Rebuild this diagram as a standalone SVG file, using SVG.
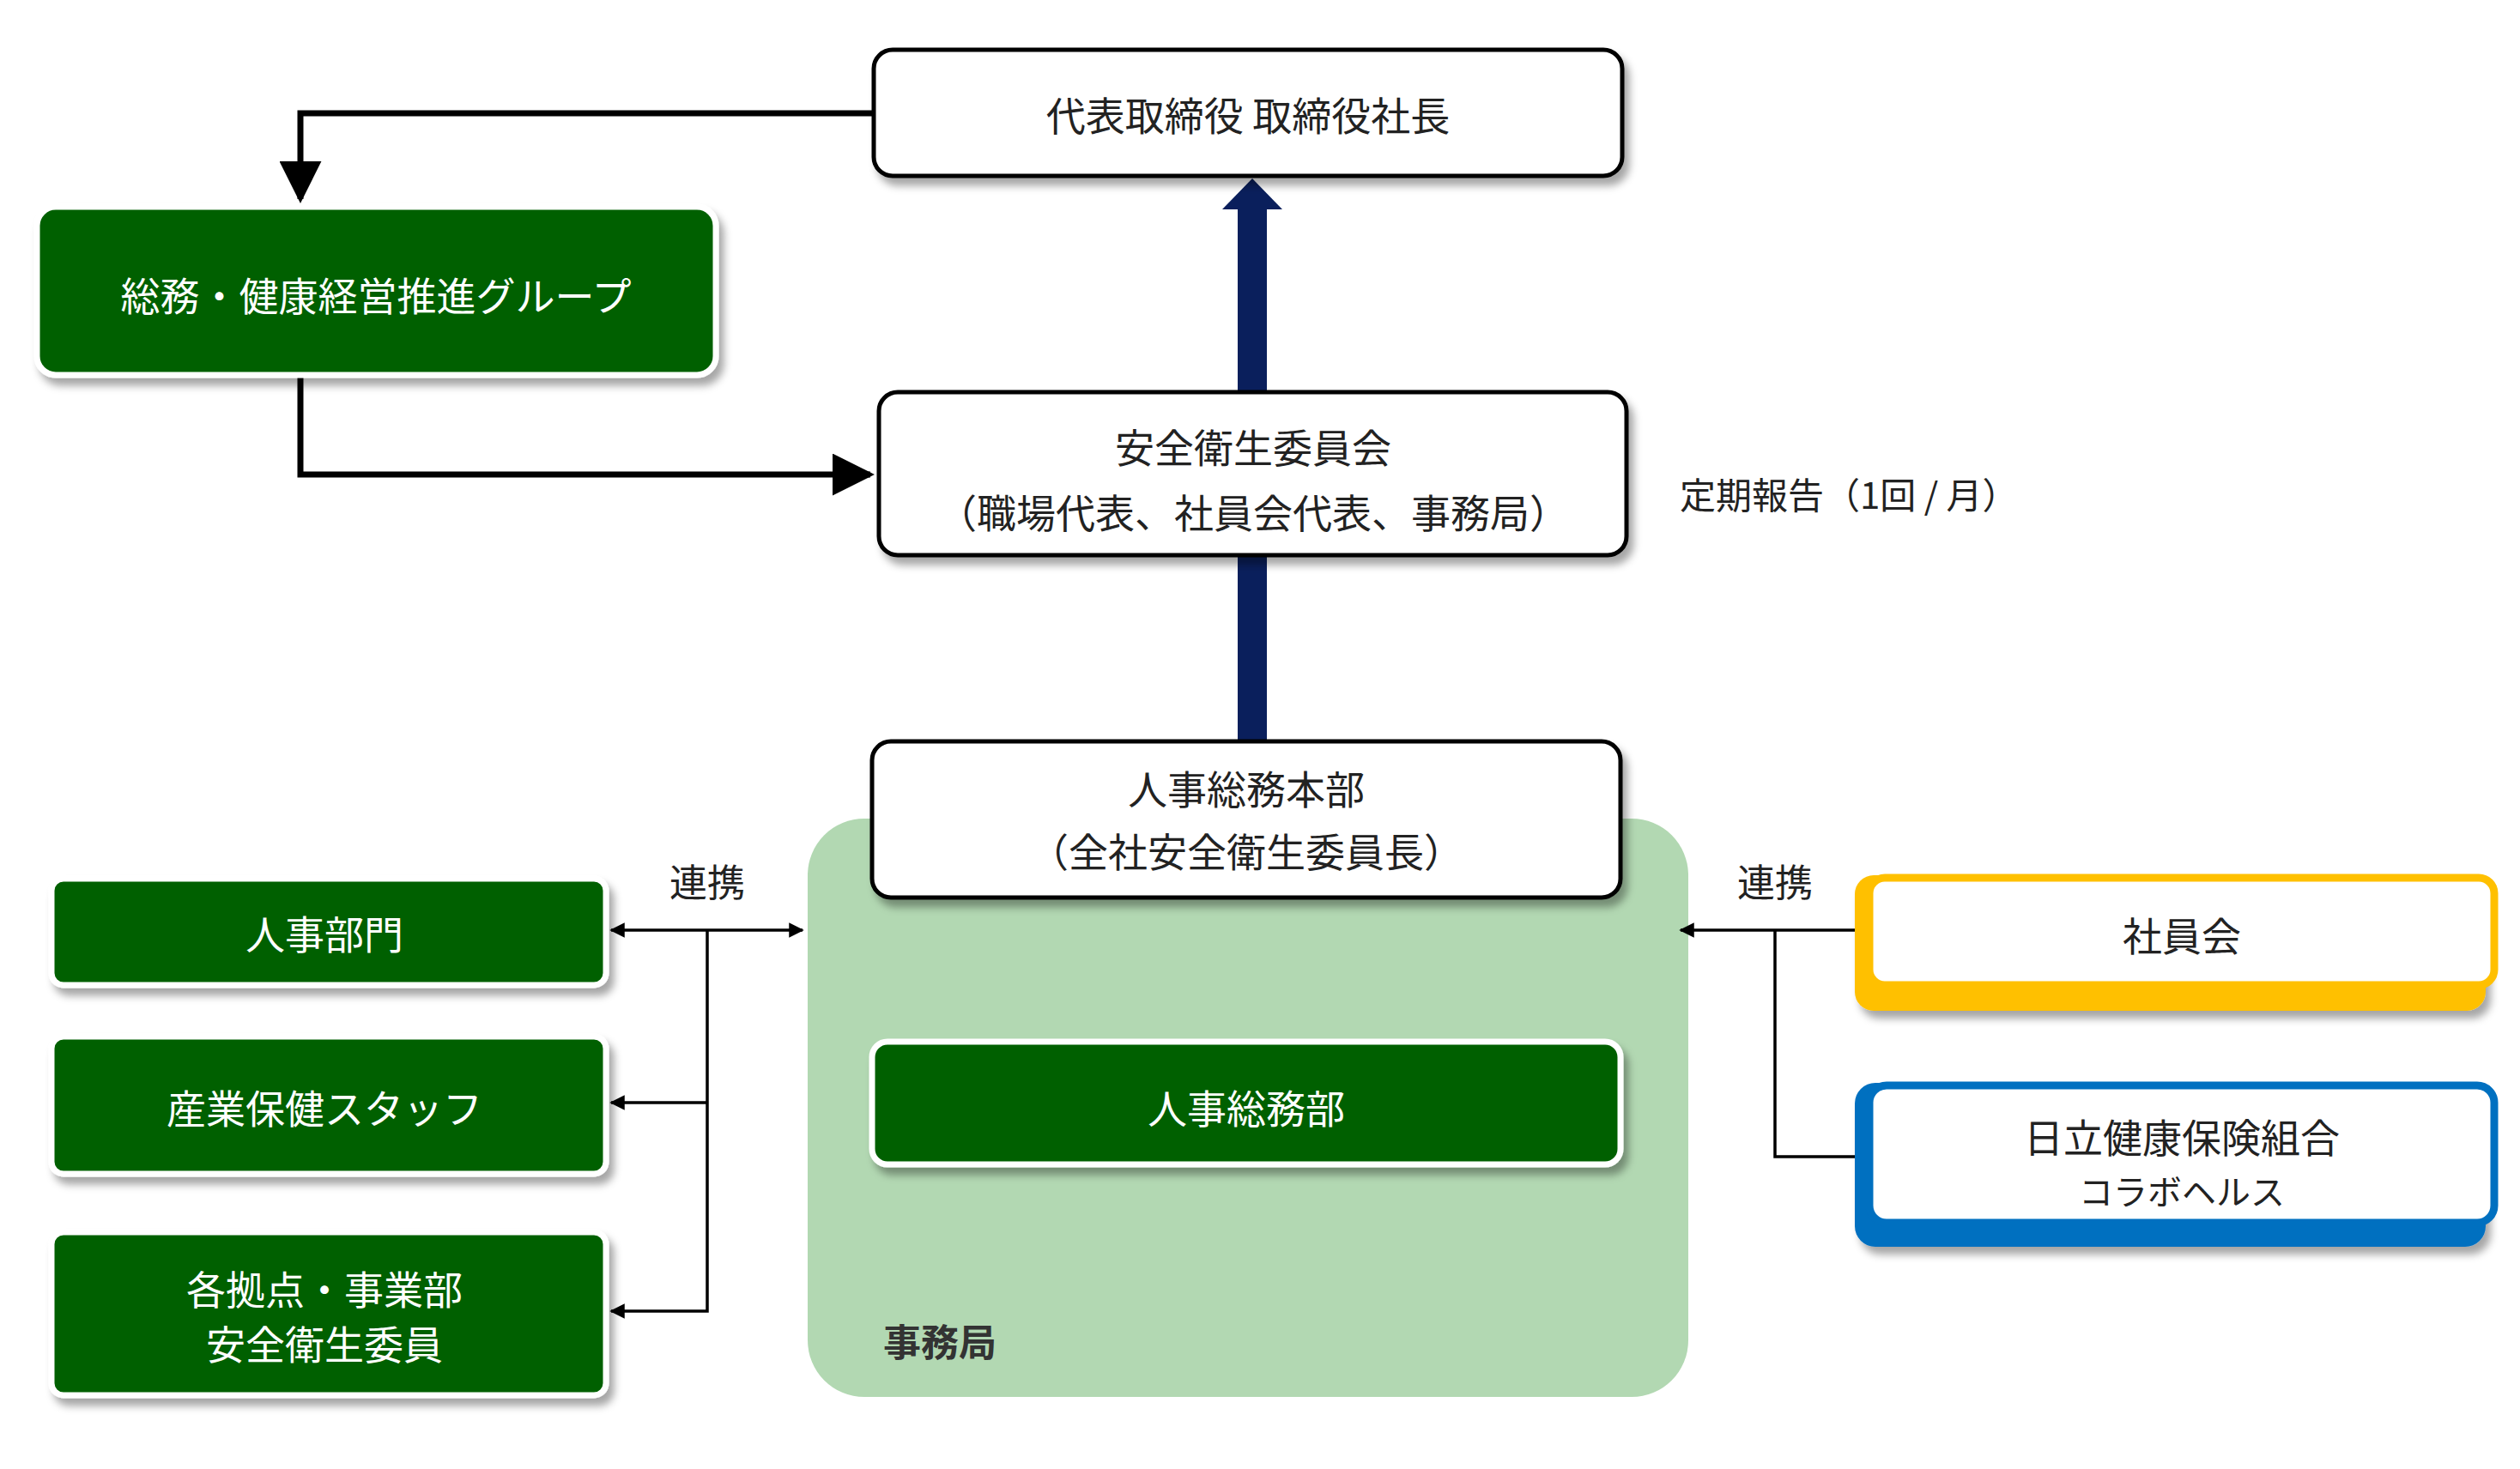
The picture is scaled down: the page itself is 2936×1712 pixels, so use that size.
<svg xmlns="http://www.w3.org/2000/svg" width="2936" height="1712" viewBox="0 0 2936 1712">
<defs>
<filter id="sh" x="-10%" y="-20%" width="130%" height="150%"><feDropShadow dx="6" dy="9" stdDeviation="5" flood-color="#000" flood-opacity="0.35"/></filter>
<marker id="ah" viewBox="0 0 10 10" refX="9" refY="5" markerWidth="5" markerHeight="5" orient="auto-start-reverse"><path d="M0,0 L10,5 L0,10 z" fill="#000"/></marker>
<marker id="as" viewBox="0 0 10 10" refX="9" refY="5" markerWidth="7" markerHeight="7" orient="auto-start-reverse"><path d="M0,0 L10,5 L0,10 z" fill="#000"/></marker>
<style>
text{font-family:"Noto Sans CJK JP","Noto Sans",sans-serif;text-anchor:middle;dominant-baseline:central}
.wb{fill:#fff;stroke:#000;stroke-width:5}
.gb{fill:#006100;stroke:#fff;stroke-width:7}
.k{font-size:46px;fill:#222}
.w{font-size:46px;fill:#fff}
.t{fill:none;stroke:#000;stroke-width:3.5}
.b{fill:none;stroke:#000;stroke-width:7}
</style>
</defs>
<g id="jimukyoku"><rect x="941" y="954" width="1026" height="674" rx="66" fill="#b2d8b2"/><text x="1029" y="1562" style="text-anchor:start;font-size:44px;font-weight:bold;fill:#333">事務局</text></g>
<g id="connectors">
<rect x="1442" y="240" width="34" height="624" fill="#0a1f5c"/>
<path d="M1424,244 L1459,208 L1494,244 z" fill="#0a1f5c"/>
<path class="b" d="M1018,132 H350 V232" marker-end="url(#as)"/>
<path class="b" d="M350,437 V553 H1014" marker-end="url(#as)"/>
<path class="t" d="M712,1084 H935" marker-start="url(#ah)" marker-end="url(#ah)"/>
<path class="t" d="M824,1084 V1528 H712" marker-end="url(#ah)"/>
<path class="t" d="M824,1285 H712" marker-end="url(#ah)"/>
<path class="t" d="M1958,1084 H2177" marker-start="url(#ah)" marker-end="url(#ah)"/>
<path class="t" d="M2068,1084 V1348 H2177" marker-end="url(#ah)"/>
</g>
<g id="president"><rect class="wb" x="1018" y="58" width="872" height="147" rx="22" filter="url(#sh)"/><text class="k" x="1454" y="132">代表取締役  取締役社長</text></g>
<g id="somu"><rect class="gb" x="43" y="241" width="791" height="196" rx="22" filter="url(#sh)"/><text class="w" x="438" y="342">総務・健康経営推進グループ</text></g>
<g id="committee"><rect class="wb" x="1024" y="457" width="871" height="190" rx="22" filter="url(#sh)"/><text class="k" x="1460" y="519">安全衛生委員会</text><text class="k" x="1460" y="595">（職場代表、社員会代表、事務局）</text></g>
<text x="1957" y="574" style="text-anchor:start;font-size:42px;fill:#222">定期報告（1回 / 月）</text>
<g id="honbu"><rect class="wb" x="1016" y="864" width="872" height="182" rx="22" filter="url(#sh)"/><text class="k" x="1452" y="917">人事総務本部</text><text class="k" x="1452" y="990">（全社安全衛生委員長）</text></g>
<g id="jinjisomubu"><rect class="gb" x="1016" y="1214" width="872" height="143" rx="18" filter="url(#sh)"/><text class="w" x="1452" y="1289">人事総務部</text></g>
<g id="jinji"><rect class="gb" x="60" y="1024" width="646" height="124" rx="14" filter="url(#sh)"/><text class="w" x="378" y="1086">人事部門</text></g>
<g id="sangyo"><rect class="gb" x="60" y="1208" width="646" height="160" rx="14" filter="url(#sh)"/><text class="w" x="378" y="1289">産業保健スタッフ</text></g>
<g id="kakyoten"><rect class="gb" x="60" y="1436" width="646" height="190" rx="14" filter="url(#sh)"/><text class="w" x="378" y="1500">各拠点・事業部</text><text class="w" x="378" y="1564">安全衛生委員</text></g>
<text class="k" x="824" y="1026" style="font-size:44px">連携</text>
<text class="k" x="2068" y="1026" style="font-size:44px">連携</text>
<g id="shainkai"><rect x="2161" y="1020" width="735" height="158" rx="22" fill="#FFC000" filter="url(#sh)"/><rect x="2178" y="1023" width="728" height="125" rx="18" fill="#fff" stroke="#FFC000" stroke-width="9"/><text class="k" x="2542" y="1088">社員会</text></g>
<g id="kenpo"><rect x="2161" y="1262" width="735" height="191" rx="24" fill="#0070C0" filter="url(#sh)"/><rect x="2178" y="1265" width="728" height="160" rx="20" fill="#fff" stroke="#0070C0" stroke-width="9"/><text class="k" x="2542" y="1323">日立健康保険組合</text><text class="k" x="2542" y="1387" style="font-size:40px">コラボヘルス</text></g>
</svg>
